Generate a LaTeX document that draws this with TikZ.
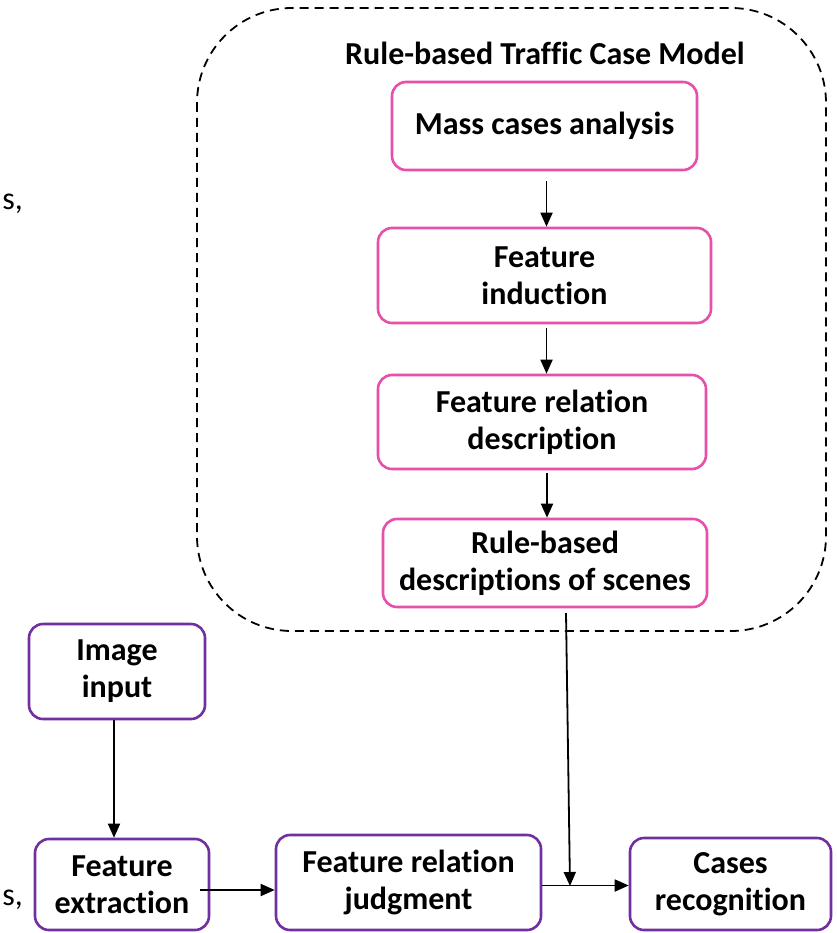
\documentclass[tikz,border=0pt]{standalone}
\usepackage{fontspec}
\setmainfont{Carlito}[Ligatures=CommonOff]
\usetikzlibrary{arrows.meta}
\definecolor{pinkc}{HTML}{E64FAA}
\definecolor{purpc}{HTML}{7030A0}
\begin{document}
\begin{tikzpicture}[x=1pt,y=-1pt,
  box/.style={draw, line width=2.6pt, rounded corners=14pt, inner sep=0pt,
    font=\fontsize{32}{37}\selectfont\bfseries, align=center},
  pbox/.style={box, draw=pinkc},
  vbox/.style={box, draw=purpc},
  arr/.style={line width=1.8pt, -{Triangle[length=14pt,width=12pt]}},
  txt/.style={font=\fontsize{32}{37}\selectfont, inner sep=0pt}]
\useasboundingbox (0,0) rectangle (836,933);
\fill[white] (0,0) rectangle (836,933);
% container
\draw[dashed, line width=1.8pt, dash pattern=on 9pt off 6pt, rounded corners=95pt]
  (197,8) rectangle (826,631);
\node[font=\fontsize{32}{34}\selectfont\bfseries, inner sep=0pt] (title) at (545,53) {Rule-based Traffic Case Model};
% pink boxes
\node[pbox, minimum width=305pt, minimum height=88pt] (mass) at (544.5,126) {Mass cases analysis};
\node[pbox, minimum width=333pt, minimum height=95pt] (induct) at (544.5,275.5) {Feature\\induction};
\node[pbox, minimum width=328pt, minimum height=94pt] (rel) at (542,422) {Feature relation\\description};
\node[pbox, minimum width=324pt, minimum height=88pt] (rule) at (545,563) {Rule-based\\descriptions of scenes};
% purple boxes
\node[vbox, minimum width=176pt, minimum height=95pt] (img) at (117,671.5) {Image\\input};
\node[vbox, minimum width=174pt, minimum height=91pt] (ext) at (122,884.5) {Feature\\extraction};
\node[vbox, minimum width=265pt, minimum height=95pt] (judg) at (408.5,882.5) {Feature relation\\judgment};
\node[vbox, minimum width=201pt, minimum height=92pt] (rec) at (730.5,884) {Cases\\recognition};
% stray text fragments
\node[txt, anchor=base east] (s1) at (23,210) {s,};
\node[txt, anchor=base east] (s2) at (23,905) {s,};
% arrows
\draw[arr] (mass.south) ++(2,10) coordinate (a1) -- (a1 |- induct.north);
\draw[arr] (induct.south) ++(2,4) coordinate (a2) -- (a2 |- rel.north);
\draw[arr] (rel.south) ++(5,3) coordinate (a3) -- (a3 |- rule.north);
\coordinate (b1) at (566,613);
\coordinate (b2) at (570,886);
\draw[arr] (b1) -- (b2);
\draw[arr] (img.south) ++(-3,0) coordinate (c1) -- (c1 |- ext.north);
\draw[arr] (200,890) coordinate (d1) -- (d1 -| judg.west);
\draw[arr] (judg.east) ++(0,3) coordinate (e1) -- (e1 -| rec.west);
\end{tikzpicture}
\end{document}
